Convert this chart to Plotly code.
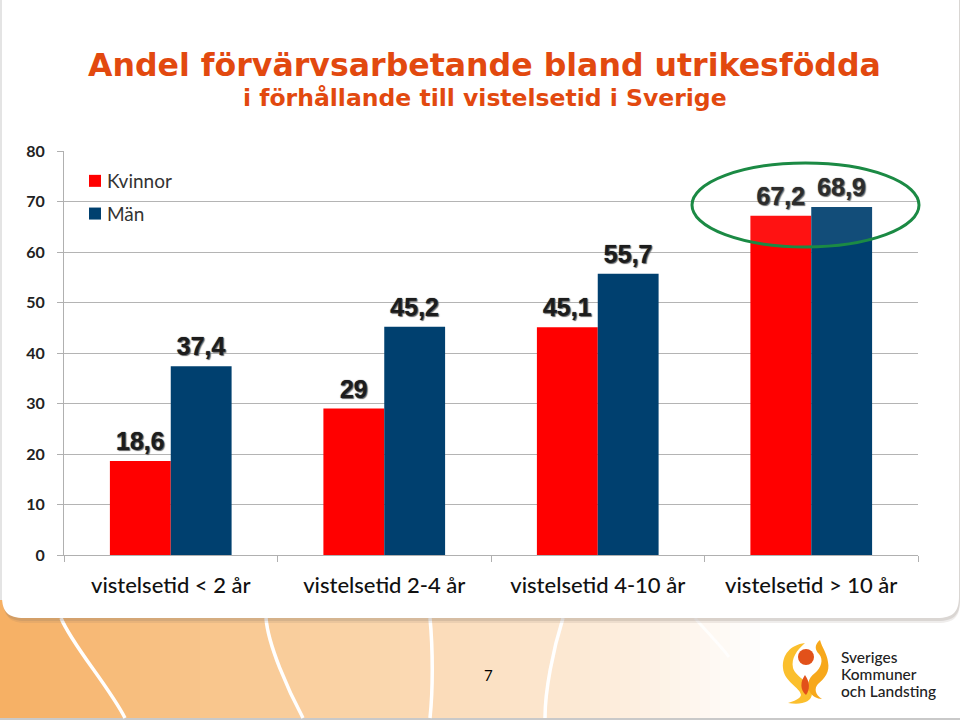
import plotly.graph_objects as go

categories = ["vistelsetid < 2 år", "vistelsetid 2-4 år", "vistelsetid 4-10 år", "vistelsetid > 10 år"]
kvinnor = [18.6, 29, 45.1, 67.2]
man = [37.4, 45.2, 55.7, 68.9]
kvinnor_labels = ["18,6", "29", "45,1", "67,2"]
man_labels = ["37,4", "45,2", "55,7", "68,9"]
y_ticks = [0, 10, 20, 30, 40, 50, 60, 70, 80]

L, R, T, B = 64, 918, 151, 555
def px(x): return (x - L) / (R - L)
def py(y): return (B - y) / (B - T)

fig = go.Figure()
lab = dict(family="Liberation Sans", size=25, color="#1c1c1c", weight="bold",
           shadow="1px 1px 1px #666, 0 0 1px #222")
fig.add_bar(name="Kvinnor", x=categories, y=kvinnor, text=kvinnor_labels, marker_color="#FF0000",
            marker_line_width=0, textposition="outside", textfont=lab, cliponaxis=False, legendgroup="a")
fig.add_bar(name="Män", x=categories, y=man, text=man_labels, marker_color="#00406F",
            marker_line_width=0, textposition="outside", textfont=lab, cliponaxis=False, legendgroup="b")

shapes = []
def rect(x0, y0, x1, y1, color, layer="below"):
    shapes.append(dict(type="rect", xref="paper", yref="paper", x0=px(x0), x1=px(x1), y0=py(y0), y1=py(y1),
                       fillcolor=color, line_width=0, layer=layer))
def path(points, color=None, lw=0, fill=None, layer="below"):
    d = ""
    for cmd, pts in points:
        d += cmd + " ".join(f"{px(a):.5f},{py(b):.5f}" for a, b in pts) + " "
    if fill:
        d += "Z"
    shapes.append(dict(type="path", xref="paper", yref="paper", path=d, layer=layer,
                       fillcolor=fill or "rgba(0,0,0,0)",
                       line=dict(color=color or "rgba(0,0,0,0)", width=lw)))

# footer gradient
stops = [(0, (246, 176, 100)), (200, (249, 198, 140)), (400, (251, 217, 178)), (600, (253, 236, 218)), (760, (255, 255, 255))]
n = 80
for i in range(n):
    x0 = i * 800 / n
    x1 = (i + 1) * 800 / n + 0.5
    for (a, ca), (b, cb) in zip(stops, stops[1:]):
        if a <= x0 <= b:
            t = (x0 - a) / (b - a)
            c = tuple(int(ca[k] + (cb[k] - ca[k]) * t) for k in range(3))
            rect(x0, 600, x1, 718, f"rgb{c}")
            break
rect(0, 718, 960, 720, "#c9c9c9")
# white ribbons
for pts in [[(61, 618), (72, 645), (108, 685), (125, 718)],
            [(266, 618), (268, 645), (288, 690), (303, 718)],
            [(430, 618), (433, 650), (433, 690), (430, 718)],
            [(563, 618), (553, 650), (545, 690), (545, 718)]]:
    path([("M", [pts[0]]), ("C", pts[1:])], color="white", lw=3.5)
path([("M", [(695, 618)]), ("C", [(705, 630), (720, 645), (729, 657)])], color="rgba(255,255,255,0.8)", lw=3)

# white panel with soft shadow
def panel(x0, x1, bottom, color):
    r = 22
    path([("M", [(x0, 0)]), ("L", [(x0, bottom - r)]), ("C", [(x0, bottom - 6), (x0 + 6, bottom), (x0 + r, bottom)]),
          ("L", [(x1 - r, bottom)]), ("C", [(x1 - 6, bottom), (x1, bottom - 6), (x1, bottom - r)]),
          ("L", [(x1, 0)])], fill=color)
panel(4, 960, 623, "rgba(120,110,100,0.12)")
panel(3, 960, 621, "rgba(120,110,100,0.18)")
panel(2, 959, 618, "#FFFFFF")
rect(0, 0, 2, 600, "#e4e4e4")

# logo
path([("M", [(805, 643)]), ("C", [(790, 645), (782, 655), (783, 668)]), ("C", [(784, 682), (800, 687), (801, 695)]),
      ("C", [(800, 699), (794, 701), (788, 703)]), ("C", [(800, 705), (812, 703), (812, 693)]),
      ("C", [(812, 682), (796, 678), (793, 668)]), ("C", [(791, 658), (797, 650), (805, 643)])], fill="#FBBF2D")
path([("M", [(820, 640)]), ("C", [(814, 645), (815, 650), (819, 654)]), ("C", [(824, 660), (821, 668), (815, 673)]),
      ("C", [(808, 678), (806, 686), (810, 692)]), ("C", [(812, 696), (817, 699), (822, 699)]),
      ("C", [(815, 695), (814, 688), (818, 684)]), ("C", [(825, 678), (830, 672), (828, 662)]),
      ("C", [(827, 653), (822, 648), (820, 640)])], fill="#F7A81B")
shapes.append(dict(type="circle", xref="paper", yref="paper", x0=px(798), x1=px(814), y0=py(649), y1=py(665),
                   fillcolor="#E2511A", line_width=0, layer="below"))
path([("M", [(805, 675)]), ("C", [(800, 682), (800, 690), (806, 695)]), ("C", [(810, 690), (810, 682), (805, 675)])], fill="#E2511A")

# highlight ellipse, over bars
shapes.append(dict(type="circle", xref="paper", yref="paper", x0=px(692), x1=px(919), y0=py(163), y1=py(247),
                   fillcolor="rgba(255,255,255,0.07)", line=dict(color="#1B8A44", width=3), layer="above"))

def note(text, x, y, size, color="#000", family="Lato", weight="normal", anchor="center"):
    fig.add_annotation(text=text, xref="paper", yref="paper", x=px(x), y=py(y), showarrow=False, xanchor=anchor,
                       yanchor="middle", font=dict(family=family, size=size, color=color, weight=weight))

note("Andel förvärvsarbetande bland utrikesfödda", 484, 65, 31.6, "#E2490F", "DejaVu Sans", "bold")
note("i förhållande till vistelsetid i Sverige", 485, 98, 23.5, "#E2490F", "DejaVu Sans", "bold")
note("7", 488, 675, 15)
note("Sveriges", 839, 657, 15.5, "#222", "Lato", 500, "left")
note("Kommuner", 839, 674, 15.5, "#222", "Lato", 500, "left")
note("och Landsting", 839, 691, 15.5, "#222", "Lato", 500, "left")

fig.update_layout(
    width=960, height=720, autosize=False,
    margin=dict(l=L, r=960 - R, t=T, b=720 - B),
    paper_bgcolor="white", plot_bgcolor="rgba(0,0,0,0)",
    barmode="group", bargap=0.43, bargroupgap=0,
    shapes=shapes,
    legend=dict(x=px(85), y=py(162), xanchor="left", yanchor="top", bgcolor="rgba(0,0,0,0)",
                traceorder="grouped", tracegroupgap=5, indentation=-10,
                font=dict(family="Lato", size=19, color="#333")),
    font=dict(family="Lato"),
)
fig.update_xaxes(type="category", tickson="boundaries", ticks="outside", ticklen=6, tickcolor="#b0b0b0",
                 showline=True, linecolor="#b0b0b0", showgrid=False,
                 tickfont=dict(family="Lato", size=22, color="#111", weight=500), ticklabelstandoff=11)
fig.update_yaxes(range=[0, 80], tickvals=y_ticks, ticks="outside", ticklen=6, tickcolor="#b0b0b0",
                 showline=True, linecolor="#b0b0b0", showgrid=True, gridcolor="#b4b4b4", gridwidth=1, zeroline=False,
                 tickfont=dict(family="Lato", size=16, color="#222", weight="bold"), ticklabelstandoff=9)

post = """
document.body.style.margin='0';
document.querySelectorAll('.legendtext').forEach(function(t){
  t.setAttribute('x', parseFloat(t.getAttribute('x')||0) - 8);
});
document.querySelectorAll('text.bartext').forEach(function(t){
  t.setAttribute('transform', 'translate(0,-3) ' + (t.getAttribute('transform')||''));
});
"""
fig.write_html("out.html", post_script=post, config={"displayModeBar": False})
